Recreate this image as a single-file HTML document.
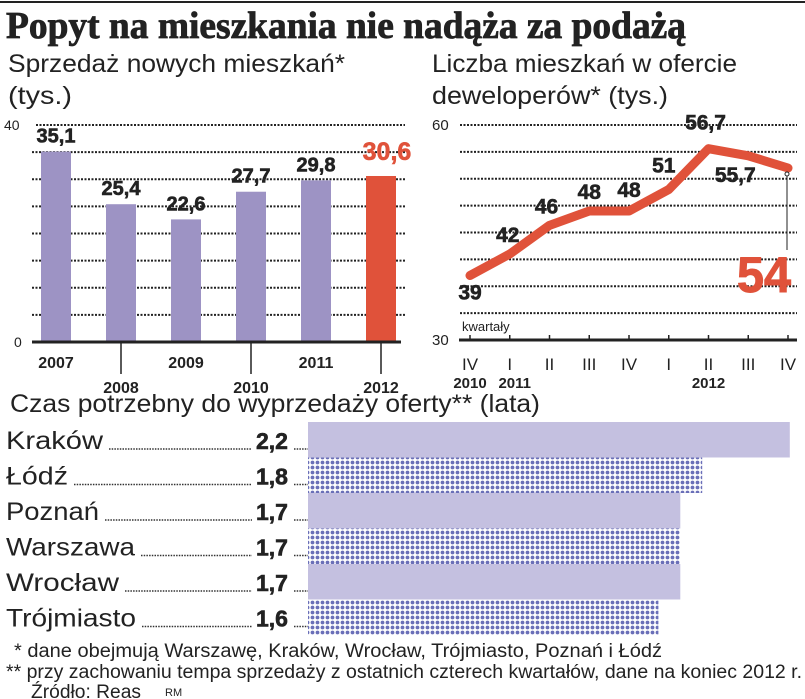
<!DOCTYPE html>
<html><head><meta charset="utf-8"><style>
html,body{margin:0;padding:0;background:#fff}
svg{display:block;font-family:"Liberation Sans",sans-serif}
</style></head><body>
<svg id="s" width="805" height="699" viewBox="0 0 805 699">
<defs>
<pattern id="dots" width="5" height="5" patternUnits="userSpaceOnUse"><rect width="5" height="5" fill="#fff"/><circle cx="2.5" cy="2.5" r="1.9" fill="#6a6fb8"/></pattern>
</defs>
<line x1="0" y1="2" x2="805" y2="2" stroke="#222" stroke-width="2"/>
<text x="6" y="38" font-family="Liberation Serif,serif" font-weight="bold" font-size="38" textLength="680" lengthAdjust="spacingAndGlyphs" fill="#222" stroke="#222" stroke-width="0.8">Popyt na mieszkania nie nadąża za podażą</text>
<text x="8" y="72" font-size="25" textLength="337" lengthAdjust="spacingAndGlyphs" fill="#222">Sprzedaż nowych mieszkań*</text>
<text x="8" y="104" font-size="25" textLength="64" lengthAdjust="spacingAndGlyphs" fill="#222">(tys.)</text>
<text x="432" y="72" font-size="25" textLength="305" lengthAdjust="spacingAndGlyphs" fill="#222">Liczba mieszkań w ofercie</text>
<text x="432" y="104" font-size="25" textLength="236" lengthAdjust="spacingAndGlyphs" fill="#222">deweloperów* (tys.)</text>
<g id="left"></g><g id="right"></g><g id="bottom"></g>
<text x="10" y="412" font-size="25" textLength="530" lengthAdjust="spacingAndGlyphs" fill="#222">Czas potrzebny do wyprzedaży oferty** (lata)</text>
<text x="14" y="657" font-size="19" textLength="648" lengthAdjust="spacingAndGlyphs" fill="#222">* dane obejmują Warszawę, Kraków, Wrocław, Trójmiasto, Poznań i Łódź</text>
<text x="6" y="678" font-size="19" textLength="796" lengthAdjust="spacingAndGlyphs" fill="#222">** przy zachowaniu tempa sprzedaży z ostatnich czterech kwartałów, dane na koniec 2012 r.</text>
<text x="31" y="698" font-size="19" textLength="110" lengthAdjust="spacingAndGlyphs" fill="#222">Źródło: Reas</text>
<text x="165" y="696" font-size="11" fill="#222">RM</text>
</svg>
<script>
const NS="http://www.w3.org/2000/svg";
// left chart data
const years=["2007","2008","2009","2010","2011","2012"];
const sales=[35.1,25.4,22.6,27.7,29.8,30.6];
const salesLabels=["35,1","25,4","22,6","27,7","29,8","30,6"];
// right chart data
const quarters=["IV","I","II","III","IV","I","II","III","IV"];
const offer=[39,42,46,48,48,51,56.7,55.7,54];
const offerLabels=["39","42","46","48","48","51","56,7","55,7","54"];
// bottom chart data
const cities=["Kraków","Łódź","Poznań","Warszawa","Wrocław","Trójmiasto"];
const times=[2.2,1.8,1.7,1.7,1.7,1.6];
const timeLabels=["2,2","1,8","1,7","1,7","1,7","1,6"];

function mk(tag,attrs,parent,txt){const e=document.createElementNS(NS,tag);for(const k in attrs)e.setAttribute(k,attrs[k]);if(txt!==undefined)e.textContent=txt;parent.appendChild(e);return e;}

// LEFT
const L=document.getElementById('left');
const ly=v=>342-v*(217/40);
const lx=i=>41+i*65;
for(let k=1;k<=8;k++){const g=mk('line',{x1:k==8?36:32,y1:ly(k*5),x2:405,y2:ly(k*5),stroke:'#222','stroke-width':2,'stroke-dasharray':'2 1.5'},L);

}
let t=mk('text',{x:4,y:ly(40)+5,'font-size':14,fill:'#222'},L,'40');
t=mk('text',{x:14,y:ly(0)+5,'font-size':14,fill:'#222'},L,'0');
sales.forEach((v,i)=>{
 const r=mk('rect',{x:lx(i),y:ly(v),width:30,height:ly(0)-ly(v),fill:i==5?'#e0523a':'#9d93c4'},L);
 
 
 const red=i==5;
 const tx=mk('text',{x:lx(i)+15+(red?6:0),y:ly(v)-(red?16:9),'text-anchor':'middle','font-size':red?25:20,'font-weight':'bold',fill:red?'#e0523a':'#222',stroke:red?'#e0523a':'#222','stroke-width':0.6},L,salesLabels[i]);
 
 
 const yl=mk('text',{x:lx(i)+15,y:i%2==0?368:393,'text-anchor':'middle','font-size':16,'font-weight':'bold',fill:'#222'},L,years[i]);
 
 
 if(i%2==1){const tk=mk('line',{x1:lx(i)+15,y1:342,x2:lx(i)+15,y2:374,stroke:'#222','stroke-width':1.5},L);
 
 }
});
t=mk('line',{x1:32,y1:342,x2:401,y2:342,stroke:'#222','stroke-width':3},L);

// RIGHT
const R=document.getElementById('right');
const ry=v=>340-(v-30)*(215/30);
const rx=i=>470+i*39.75;
for(let k=1;k<=8;k++){const g=mk('line',{x1:460,y1:ry(30+k*3.75),x2:797,y2:ry(30+k*3.75),stroke:'#222','stroke-width':2,'stroke-dasharray':'2 1.5'},R);

}
t=mk('text',{x:432,y:ry(60)+5,'font-size':15,fill:'#222'},R,'60');
t=mk('text',{x:432,y:ry(30)+5,'font-size':15,fill:'#222'},R,'30');
t=mk('line',{x1:459,y1:340,x2:797,y2:340,stroke:'#222','stroke-width':3},R);
t=mk('text',{x:462,y:331,'font-size':13,fill:'#222'},R,'kwartały');
quarters.forEach((q,i)=>{
 const tk=mk('line',{x1:rx(i),y1:335,x2:rx(i),y2:340,stroke:'#222','stroke-width':1.5},R);
 
 
 const ql=mk('text',{x:rx(i),y:370,'text-anchor':'middle','font-size':17,fill:'#222'},R,q);
 
 
});
[["2010",rx(0)],["2011",rx(1)+5],["2012",rx(6)]].forEach(([y,x])=>{const e=mk('text',{x:x,y:388,'text-anchor':'middle','font-size':15,'font-weight':'bold',fill:'#222'},R,y);
 
 });
const pl=mk('polyline',{points:offer.map((v,i)=>rx(i)+','+ry(v)).join(' '),fill:'none',stroke:'#e0523a','stroke-width':9,'stroke-linecap':'round','stroke-linejoin':'round'},R);


const offs=[[0,24],[-2,-12],[-3,-12],[0,-12],[0,-14],[-5,-17],[-3,-19],[-13,26]];
offerLabels.forEach((lab,i)=>{
 if(i==8)return;
 const e=mk('text',{x:rx(i)+offs[i][0],y:ry(offer[i])+offs[i][1],'text-anchor':'middle','font-size':21,'font-weight':'bold',fill:'#222',stroke:'#222','stroke-width':0.6},R,lab);
 
 
});
t=mk('line',{x1:787,y1:ry(offer[8])+6,x2:787,y2:250,stroke:'#222','stroke-width':1},R);
t=mk('circle',{cx:787,cy:ry(offer[8])+6,r:2,fill:'#fff',stroke:'#222'},R);
t=mk('text',{x:791,y:292,'text-anchor':'end','font-size':50,'font-weight':'bold',fill:'#e0523a',stroke:'#e0523a','stroke-width':1,textLength:54,lengthAdjust:'spacingAndGlyphs'},R,offerLabels[8]);

// BOTTOM
const B=document.getElementById('bottom');
const bx=v=>308+v*219;
const labelEnds=[97,62,93,129,113,130];
cities.forEach((c,i)=>{
 const y0=422+i*35.5;
 const r=mk('rect',{x:308,y:y0,width:bx(times[i])-308,height:35.5,fill:i%2==0?'#c4c0e0':'url(#dots)'},B);
 
 
 const cy=y0+27;
 const cl=mk('text',{x:6,y:cy,'font-size':25,fill:'#222',textLength:labelEnds[i],lengthAdjust:'spacingAndGlyphs'},B,c);
 
 
 const dl=mk('line',{x1:labelEnds[i]+12,y1:cy,x2:252,y2:cy,stroke:'#333','stroke-width':1.5,'stroke-dasharray':'1.5 1.2'},B);
 
 
 const dl2=mk('line',{x1:294,y1:cy,x2:308,y2:cy,stroke:'#333','stroke-width':1.5,'stroke-dasharray':'1.5 1.2'},B);
 
 
 const vl=mk('text',{x:272,y:cy,'text-anchor':'middle','font-size':23,'font-weight':'bold',fill:'#222',stroke:'#222','stroke-width':0.6},B,timeLabels[i]);
 
 
});
</script>
</body></html>
